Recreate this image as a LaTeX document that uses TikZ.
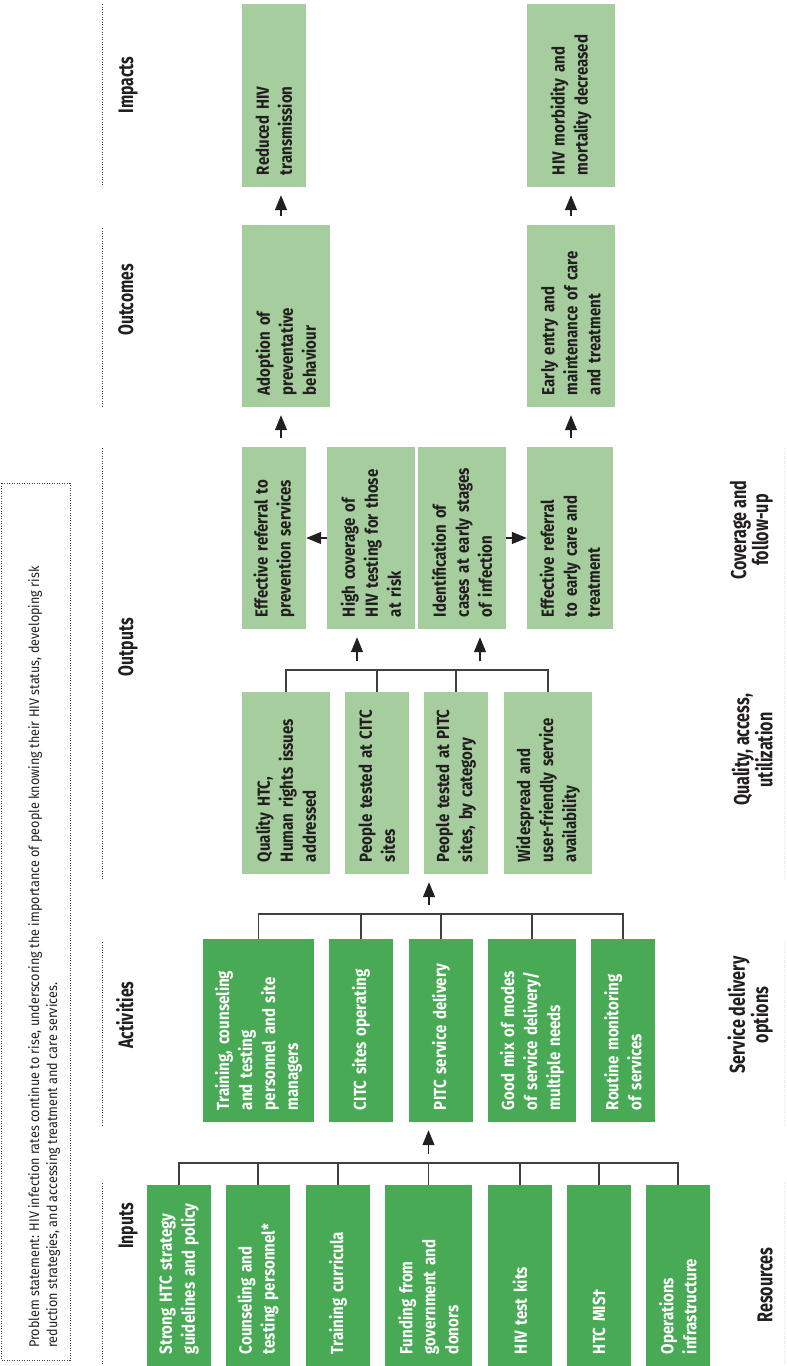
\documentclass[tikz,border=0pt]{standalone}
\usepackage{fontspec}
\setmainfont{Fira Sans}[FakeStretch=0.86,WordSpace=0.85]
\newfontfamily\headfont{Fira Sans}[FakeStretch=0.75]
\newfontfamily\probfont{Fira Sans}[FakeStretch=0.9]
\usetikzlibrary{arrows.meta}
\definecolor{dkgreen}{RGB}{73,170,85}
\definecolor{ltgreen}{RGB}{165,205,157}
\definecolor{inkgray}{RGB}{35,31,32}
\definecolor{bargray}{RGB}{64,64,64}

\begin{document}
\begin{tikzpicture}[x=1pt,y=-1pt,
    box/.style={rotate=90,align=left,inner xsep=12pt,inner ysep=0pt,
      font=\fontsize{17.5}{23}\selectfont\bfseries},
    dkbox/.style={box,fill=dkgreen,text=white},
    ltbox/.style={box,fill=ltgreen,text=inkgray},
    rowA/.style={minimum width=181pt,text width=157pt},
    rowB/.style={minimum width=183pt,text width=159pt},
    rowC/.style={minimum width=182pt,text width=158pt},
    stagehead/.style={rotate=90,anchor=base,inner sep=0pt,text=inkgray,
      font=\headfont\fontsize{21}{25}\selectfont\bfseries},
    tierlabel/.style={rotate=90,anchor=south,align=center,inner sep=0pt,text=inkgray,
      font=\headfont\fontsize{21.5}{22}\selectfont\bfseries},
    stageline/.style={draw=bargray,line width=1pt,dash pattern=on 1pt off 1.5pt},
    conn/.style={draw=bargray,line width=1.5pt},
    arr/.style={draw=inkgray,line width=1.3pt,-{Triangle[length=15pt,width=12pt]},
      shorten <=9pt,shorten >=8pt},
    harr/.style={draw=inkgray,line width=1.3pt,-{Triangle[length=15pt,width=12pt]}}]
  \useasboundingbox (0,0) rectangle (787,1366);

  % problem statement
  \draw[stageline] (1,483) rectangle (70,1360);
  \node[rotate=90,anchor=north west,align=left,inner sep=0pt,text=inkgray,
    font=\probfont\fontsize{14}{18}\selectfont] (prob) at (28,1348)
    {Problem statement: HIV infection rates continue to rise, underscoring the importance of people knowing their HIV status, developing risk\\
     reduction strategies, and accessing treatment and care services.};

  % stage headings
  \draw[stageline] (102,4) -- (102,186);
  \draw[stageline] (102,228) -- (102,408);
  \draw[stageline] (102,448) -- (102,880);
  \draw[stageline] (102,942) -- (102,1125);
  \draw[stageline] (102,1183) -- (102,1366);
  \node[stagehead] (hImpacts) at (133,85) {Impacts};
  \node[stagehead] (hOutcomes) at (133,300) {Outcomes};
  \node[stagehead] (hOutputs) at (133,647) {Outputs};
  \node[stagehead] (hActivities) at (133,1015) {Activities};
  \node[stagehead] (hInputs) at (133,1226) {Inputs};

  % tiers along the right
  \draw[stageline,draw=black!12] (784,448) -- (784,880);
  \draw[stageline,draw=black!12] (784,942) -- (784,1125);
  \draw[stageline,draw=black!12] (784,1183) -- (784,1366);
  \node[tierlabel] (tCover) at (773,530) {Coverage and\\follow-up};
  \node[tierlabel] (tQuality) at (773,750) {Quality, access,\\utilization};
  \node[tierlabel] (tService) at (773,1015) {Service delivery\\options};
  \node[tierlabel] (tResources) at (773,1285) {Resources};

  % inputs
  \node[dkbox,rowA,minimum height=64pt] (in1) at (179,1275.5) {Strong HTC strategy\\guidelines and policy};
  \node[dkbox,rowA,minimum height=64pt] (in2) at (258,1275.5) {Counseling and\\testing personnel*};
  \node[dkbox,rowA,minimum height=64pt] (in3) at (338,1275.5) {Training curricula};
  \node[dkbox,rowA,minimum height=87pt] (in4) at (428.5,1275.5) {Funding from\\government and\\donors};
  \node[dkbox,rowA,minimum height=64pt] (in5) at (520,1275.5) {HIV test kits};
  \node[dkbox,rowA,minimum height=64pt] (in6) at (599,1275.5) {HTC MIS†};
  \node[dkbox,rowA,minimum height=64pt] (in7) at (678,1275.5) {Operations\\infrastructure};

  % activities
  \node[dkbox,rowB,minimum height=111pt] (act1) at (258.5,1030.5) {Training, counseling\\and testing\\personnel and site\\managers};
  \node[dkbox,rowB,minimum height=64pt] (act2) at (361,1030.5) {CITC sites operating};
  \node[dkbox,rowB,minimum height=64pt] (act3) at (441,1030.5) {PITC service delivery};
  \node[dkbox,rowB,minimum height=88pt] (act4) at (532,1030.5) {Good mix of modes\\of service delivery/\\multiple needs};
  \node[dkbox,rowB,minimum height=64pt] (act5) at (623,1030.5) {Routine monitoring\\of services};

  % outputs: quality, access, utilization
  \node[ltbox,rowC,minimum height=88pt] (qual1) at (286,783) {Quality HTC,\\Human rights issues\\addressed};
  \node[ltbox,rowC,minimum height=64pt] (qual2) at (377,783) {People tested at CITC\\sites};
  \node[ltbox,rowC,minimum height=64pt] (qual3) at (456,783) {People tested at PITC\\sites, by category};
  \node[ltbox,rowC,minimum height=88pt] (qual4) at (548,783) {Widespread and\\user-friendly service\\availability};

  % outputs: coverage and follow-up
  \node[ltbox,rowC,minimum height=64pt] (cov1) at (274,538) {Effective referral to\\prevention services};
  \node[ltbox,rowC,minimum height=88pt] (cov2) at (371,538) {High coverage of\\HIV testing for those\\at risk};
  \node[ltbox,rowC,minimum height=88pt] (cov3) at (462,538) {Identification of\\cases at early stages\\of infection};
  \node[ltbox,rowC,minimum height=86pt] (cov4) at (570,538) {Effective referral\\to early care and\\treatment};

  % outcomes and impacts
  \node[ltbox,rowC,minimum height=88pt] (outc1) at (286,316) {Adoption of\\preventative\\behaviour};
  \node[ltbox,rowC,minimum height=88pt] (outc2) at (571,316) {Early entry and\\maintenance of care\\and treatment};
  \node[ltbox,rowB,minimum height=64pt] (imp1) at (274,95.5) {Reduced HIV\\transmission};
  \node[ltbox,rowB,minimum height=88pt] (imp2) at (571,95.5) {HIV morbidity and\\mortality decreased};

  % inputs -> activities
  \coordinate (inbar) at (0,1163);
  \draw[conn] (in1.east) -- (in1.east |- inbar) -- (in7.east |- inbar) -- (in7.east);
  \foreach \n in {2,...,6}
    \draw[conn] (in\n.east) -- (in\n.east |- inbar);
  \draw[arr] (in4.east |- inbar) -- (in4.east |- act3.west);

  % activities -> outputs
  \coordinate (actbar) at (0,914);
  \coordinate (actmid) at (429,914);
  \draw[conn] (act1.east) -- (act1.east |- actbar) -- (act5.east |- actbar) -- (act5.east);
  \foreach \n in {2,3,4}
    \draw[conn] (act\n.east) -- (act\n.east |- actbar);
  \draw[arr] (actmid) -- (actmid |- qual3.west);

  % quality -> coverage
  \coordinate (qbar) at (0,670);
  \coordinate (qleft) at (357,670);
  \coordinate (qright) at (480,670);
  \draw[conn] (qual1.east) -- (qual1.east |- qbar) -- (qual4.east |- qbar) -- (qual4.east);
  \foreach \n in {2,3}
    \draw[conn] (qual\n.east) -- (qual\n.east |- qbar);
  \draw[arr] (qleft) -- (qleft |- cov2.west);
  \draw[arr] (qright) -- (qright |- cov3.west);
  \draw[harr] (cov2.north) -- (cov1.south);
  \draw[harr] (cov3.south) -- (cov4.north);

  % coverage -> outcomes -> impacts
  \coordinate (lcol) at (281,0);
  \draw[arr] (lcol |- cov1.east) -- (lcol |- outc1.west);
  \draw[arr] (lcol |- outc1.east) -- (lcol |- imp1.west);
  \draw[arr] (outc2.west |- cov4.east) -- (outc2.west);
  \draw[arr] (outc2.east) -- (imp2.west);
\end{tikzpicture}
\end{document}
